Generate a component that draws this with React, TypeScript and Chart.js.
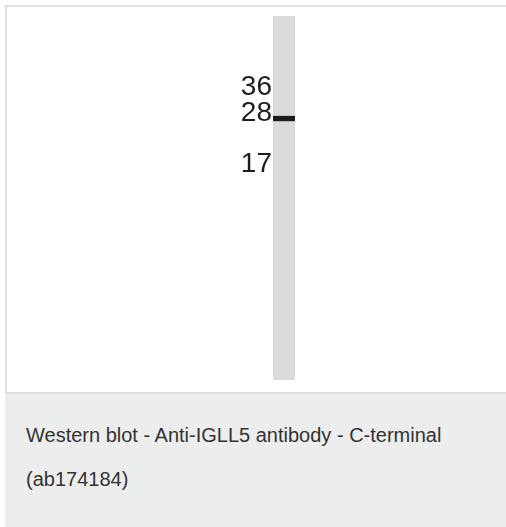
import React, { useEffect, useRef } from "react";
import { Chart, registerables } from "chart.js";
Chart.register(...registerables);

// Western blot lane (molecular weight axis, kDa)
const laneNames = ["IGLL5"];
const markerWeights = [36, 28, 17];
const markerLabels = ["36", "28", "17"];
const laneRange = [2.1, 71.6];
const bandRange = [25.9, 27.1];
const axisMin = 2.1;
const axisMax = 71.6;
const captionLines = ["Western blot - Anti-IGLL5 antibody - C-terminal", "(ab174184)"];

export default function App() {
  const ref = useRef<HTMLCanvasElement | null>(null);
  useEffect(() => {
    if (!ref.current) return;
    const chart = new Chart(ref.current, {
      type: "bar",
      data: {
        labels: laneNames,
        datasets: [
          {
            label: "band",
            data: [bandRange as any],
            backgroundColor: "#1b1b1b",
            barPercentage: 1,
            categoryPercentage: 1,
            grouped: false,
            order: 0,
          } as any,
          {
            label: "lane",
            data: [laneRange as any],
            backgroundColor: "#dbdbdb",
            barPercentage: 1,
            categoryPercentage: 1,
            grouped: false,
            order: 1,
          } as any,
        ],
      },
      options: {
        animation: false,
        responsive: false,
        maintainAspectRatio: false,
        layout: { padding: { left: 206, right: 210, top: 9, bottom: 12 } },
        plugins: { legend: { display: false }, tooltip: { enabled: false } },
        scales: {
          x: { type: "category", display: false },
          y: {
            type: "logarithmic",
            min: axisMin,
            max: axisMax,
            grid: { display: false, drawTicks: false },
            border: { display: false },
            afterBuildTicks: (s: any) => {
              s.ticks = markerWeights.map((v) => ({ value: v }));
            },
            afterFit: (s: any) => {
              s.width = 60;
              s.paddingTop = 0;
              s.paddingBottom = 0;
            },
            ticks: {
              autoSkip: false,
              padding: 1,
              color: "#1e1e1e",
              font: { size: 28, family: "'Liberation Sans', Arial, sans-serif" },
              callback: (_v: any, i: number) => markerLabels[i] ?? "",
            },
          },
        },
      },
    });
    return () => chart.destroy();
  }, []);

  return (
    <div style={{ position: "absolute", left: 0, top: 0, width: 506, height: 527, overflow: "hidden", background: "#fff" }}>
      <div
        style={{
          position: "absolute",
          left: 5,
          top: 5,
          width: 510,
          height: 385,
          border: "2px solid #e0e0e0",
          background: "#fff",
        }}
      >
        <canvas ref={ref} width={498} height={385} style={{ display: "block", width: 498, height: 385 }} />
      </div>
      <div
        style={{
          position: "absolute",
          left: 5,
          top: 394,
          width: 510,
          height: 140,
          background: "#eceeed",
          boxSizing: "border-box",
          paddingTop: 19,
          paddingLeft: 21,
          fontFamily: "'Liberation Sans', Arial, sans-serif",
          fontSize: 20,
          lineHeight: "44px",
          color: "#333333",
        }}
      >
        {captionLines.map((l, i) => (
          <div key={i}>{l}</div>
        ))}
      </div>
    </div>
  );
}
